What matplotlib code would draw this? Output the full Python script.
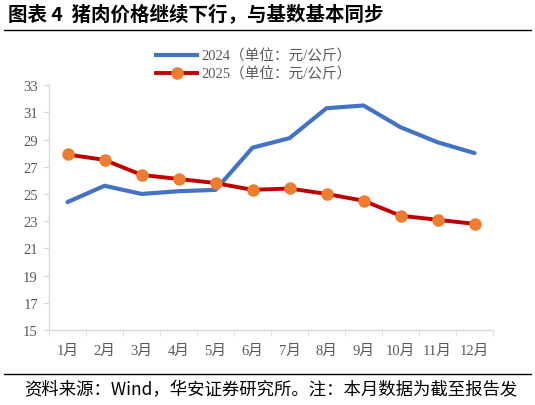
import numpy as np
import matplotlib.pyplot as plt
from matplotlib.lines import Line2D

plt.rcParams['font.family'] = ['Liberation Serif', 'Noto Sans CJK SC']

months = ['1月', '2月', '3月', '4月', '5月', '6月', '7月', '8月', '9月', '10月', '11月', '12月']
price_2024 = [24.4, 25.6, 25.0, 25.2, 25.3, 28.4, 29.1, 31.3, 31.5, 29.9, 28.8, 28.0]
price_2025 = [27.9, 27.5, 26.4, 26.1, 25.8, 25.3, 25.4, 25.0, 24.5, 23.4, 23.1, 22.8]
yticks = list(range(15, 34, 2))

blue = '#4472C4'
red = '#C00000'
orange = '#ED7D31'
grey = '#595959'

fig = plt.figure(figsize=(5.35, 4.06), dpi=100)
ax = fig.add_axes([0.0916, 0.1847, 0.830, 0.6033])

x = np.arange(len(months))
ax.plot(x, price_2024, color=blue, lw=3.0, solid_capstyle='round', solid_joinstyle='round')
ax.plot(x, price_2025, color=red, lw=2.8, marker='o', markersize=8,
        markerfacecolor=orange, markeredgecolor=orange, solid_joinstyle='round')

ax.set_xlim(-0.5, 11.5)
ax.set_ylim(15, 33)
ax.set_yticks(yticks)
ax.set_xticks(x)
ax.set_xticklabels(months)
ax.set_xticks(np.arange(-0.5, 12, 1), minor=True)
ax.tick_params(axis='x', which='major', length=0, pad=10, labelsize=10.5, labelcolor=grey)
ax.tick_params(axis='x', which='minor', length=4, color='#d9d9d9', direction='out')
ax.tick_params(axis='y', length=4, color='#d9d9d9', labelsize=10.5, labelcolor=grey, pad=4)
for s in ['top', 'right']:
    ax.spines[s].set_visible(False)
for s in ['left', 'bottom']:
    ax.spines[s].set_color('#d9d9d9')
    ax.spines[s].set_linewidth(1.0)

handles = [Line2D([], [], color=blue, lw=3.0),
           Line2D([], [], color=red, lw=2.8, marker='o', markersize=8,
                  markerfacecolor=orange, markeredgecolor=orange)]
fig.legend(handles, ['2024（单位：元/公斤）', '2025（单位：元/公斤）'],
           loc='center', bbox_to_anchor=(0.475, 0.838), frameon=False,
           fontsize=10.5, labelcolor=grey, handlelength=2.8, handletextpad=0.3,
           labelspacing=0.25)

fig.text(0.015, 0.962, '图表 4  猪肉价格继续下行，与基数基本同步', fontsize=14,
         fontweight='bold', family=['Noto Sans CJK SC'], va='center', ha='left')
fig.add_artist(Line2D([0.008, 0.992], [0.923, 0.923], color='black', lw=1.0))
fig.add_artist(Line2D([0.008, 0.992], [0.077, 0.077], color='black', lw=1.0))
fig.text(0.045, 0.04, '资料来源：Wind，华安证券研究所。注：本月数据为截至报告发', fontsize=12.5,
         family=['Noto Sans CJK SC'], va='center', ha='left')

fig.savefig('out.png', dpi=100)
